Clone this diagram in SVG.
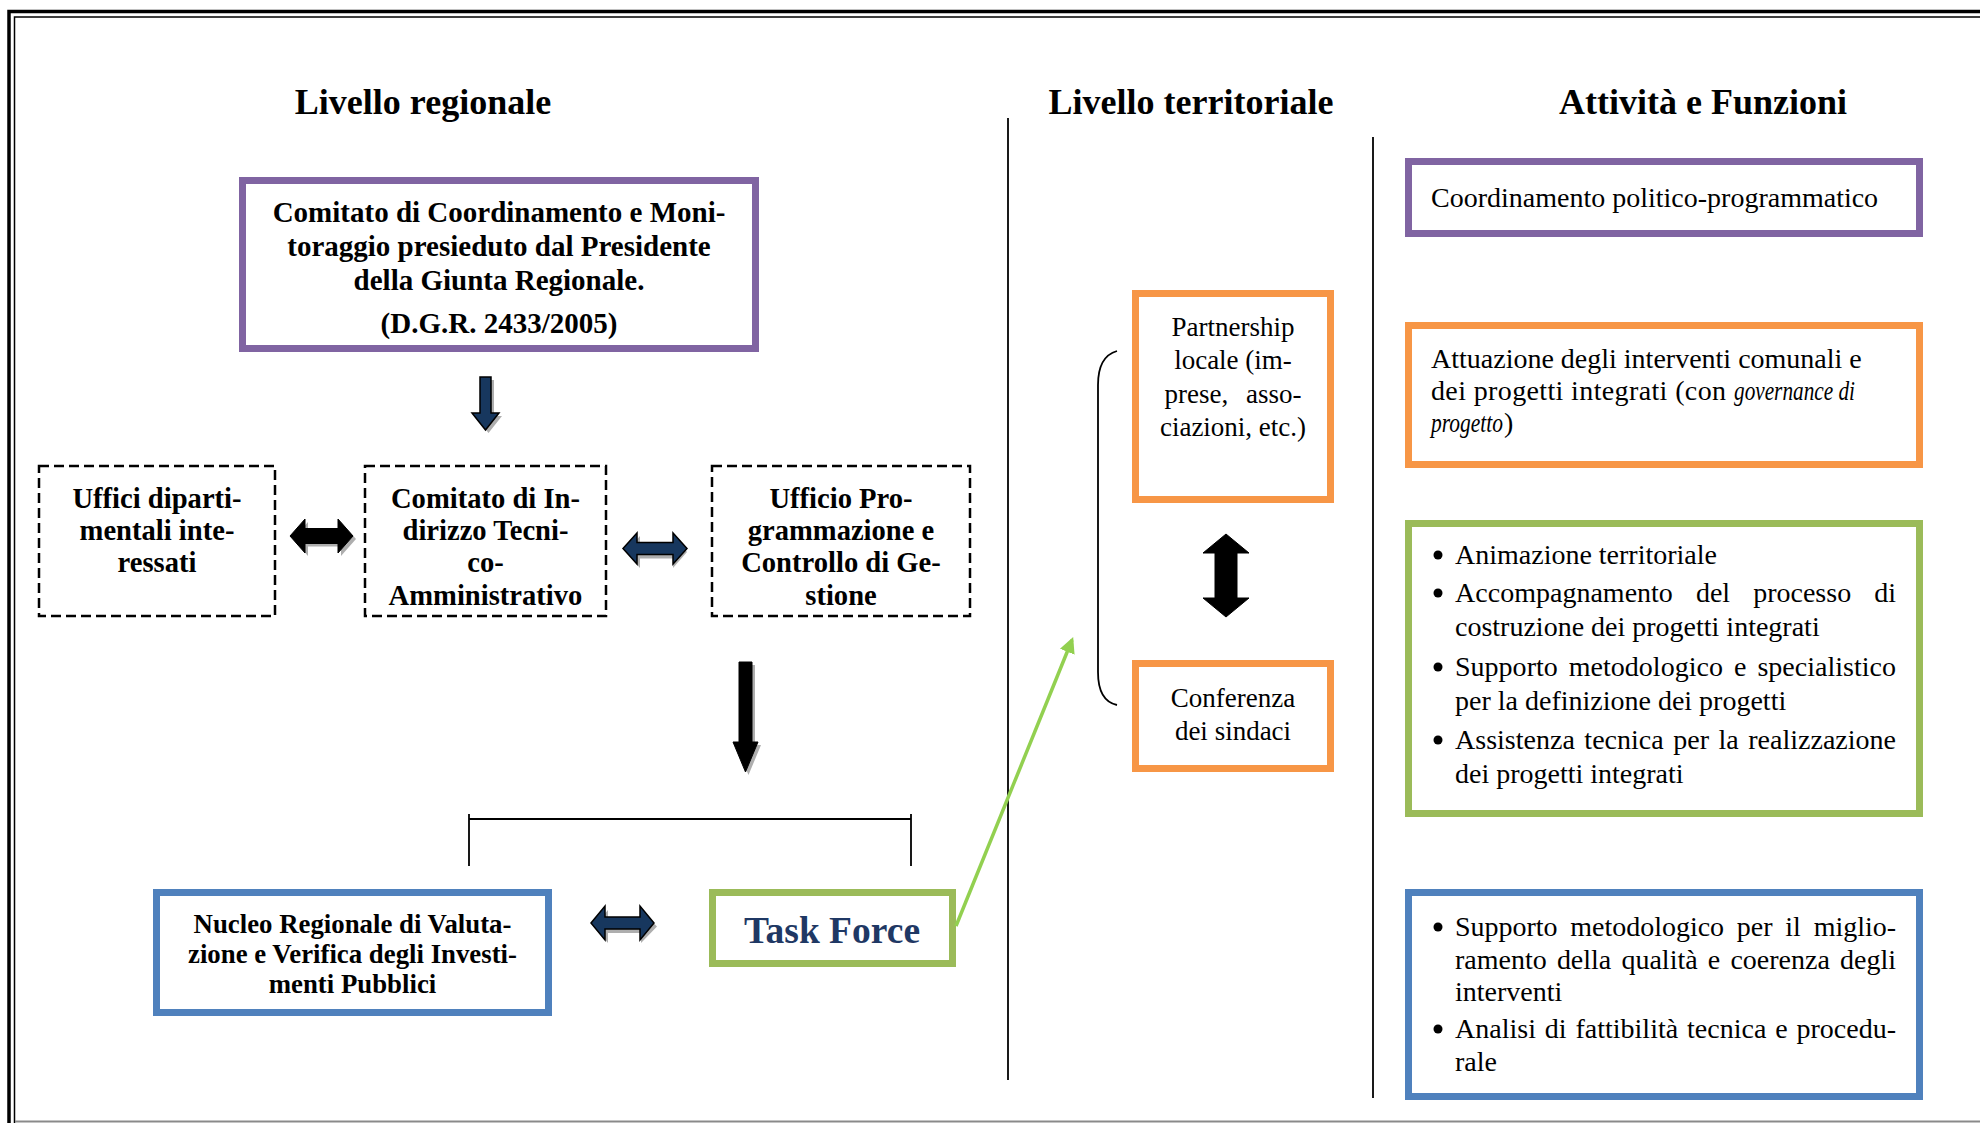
<svg xmlns="http://www.w3.org/2000/svg" width="1980" height="1123" viewBox="0 0 1980 1123">
<style>
  text { font-family: "Liberation Serif", "Times New Roman", serif; fill: #000; }
  .hdr { font-size: 36px; font-weight: bold; text-anchor: middle; }
  .b { font-size: 28.6px; font-weight: bold; text-anchor: middle; }
  .b1 { font-size: 29px; font-weight: bold; text-anchor: middle; }
  .bs { font-size: 26.8px; font-weight: bold; text-anchor: middle; }
  .r { font-size: 28px; }
  .ri { font-size: 28px; font-style: italic; }
  .rc { font-size: 27px; text-anchor: middle; }
  .tf { font-size: 37.5px; font-weight: bold; text-anchor: middle; fill: #1F3864; }
  .box { fill: #fff; stroke-width: 7; }
  .purple { stroke: #8064A2; }
  .orange { stroke: #F79646; }
  .green { stroke: #9BBB59; }
  .blue { stroke: #4F81BD; }
  .dash { fill: #fff; stroke: #000; stroke-width: 2.5; stroke-dasharray: 10 5; }
  .sep { stroke: #1a1a1a; stroke-width: 2; fill: none; }
  .thin { stroke: #000; stroke-width: 1.8; fill: none; }
  .shadow { fill: #8c8c8c; opacity: 0.7; }
  .navy { fill: #17375E; stroke: #000; stroke-width: 1.5; }
  .blk { fill: #000; stroke: #000; stroke-width: 1; }
  .bul { fill: #000; }
</style>
<defs>
  <marker id="gh" viewBox="0 0 10 10" refX="8" refY="5" markerWidth="4.5" markerHeight="4.5" orient="auto" markerUnits="strokeWidth">
    <path d="M0,0 L10,5 L0,10 z" fill="#92D050"/>
  </marker>
</defs>
<rect x="0" y="0" width="1980" height="1123" fill="#fff"/>

<g id="frame">
  <path d="M9,1123 V11.5 H1980" fill="none" stroke="#000" stroke-width="3.5"/>
  <path d="M14.5,1123 V17 H1980" fill="none" stroke="#000" stroke-width="1.5"/>
  <path d="M15,1121.5 H1980" fill="none" stroke="#8a8a8a" stroke-width="2"/>
</g>

<g id="headers">
  <text class="hdr" x="423" y="114">Livello regionale</text>
  <text class="hdr" x="1191" y="114">Livello territoriale</text>
  <text class="hdr" x="1703" y="114">Attività e Funzioni</text>
</g>

<g id="separators">
  <line class="sep" x1="1008" y1="118" x2="1008" y2="1080"/>
  <line class="sep" x1="1373" y1="137" x2="1373" y2="1098"/>
</g>

<g id="comitato-coordinamento">
  <rect class="box purple" x="242.5" y="180.5" width="513" height="168"/>
  <text class="b1" x="499" y="222">Comitato di Coordinamento e Moni-</text>
  <text class="b1" x="499" y="256">toraggio presieduto dal Presidente</text>
  <text class="b1" x="499" y="290">della Giunta Regionale.</text>
  <text class="b1" x="499" y="333">(D.G.R. 2433/2005)</text>
</g>

<g id="uffici-dipartimentali">
  <rect class="dash" x="39" y="466" width="236" height="150"/>
  <text class="b" x="157" y="508">Uffici diparti-</text>
  <text class="b" x="157" y="540">mentali inte-</text>
  <text class="b" x="157" y="572">ressati</text>
</g>

<g id="comitato-indirizzo">
  <rect class="dash" x="365" y="466" width="241" height="150"/>
  <text class="b" x="485.5" y="508">Comitato di In-</text>
  <text class="b" x="485.5" y="540">dirizzo Tecni-</text>
  <text class="b" x="485.5" y="572">co-</text>
  <text class="b" x="485.5" y="605">Amministrativo</text>
</g>

<g id="ufficio-programmazione">
  <rect class="dash" x="712" y="466" width="258" height="150"/>
  <text class="b" x="841" y="508">Ufficio Pro-</text>
  <text class="b" x="841" y="540">grammazione e</text>
  <text class="b" x="841" y="572">Controllo di Ge-</text>
  <text class="b" x="841" y="605">stione</text>
</g>

<g id="nucleo-regionale">
  <rect class="box blue" x="156.5" y="892.5" width="392" height="120"/>
  <text class="bs" x="352.5" y="933">Nucleo Regionale di Valuta-</text>
  <text class="bs" x="352.5" y="963">zione e Verifica degli Investi-</text>
  <text class="bs" x="352.5" y="993">menti Pubblici</text>
</g>

<g id="task-force">
  <rect class="box green" x="712.5" y="892.5" width="240" height="71"/>
  <text class="tf" x="832" y="943">Task Force</text>
</g>

<g id="partnership-locale">
  <rect class="box orange" x="1135.5" y="293.5" width="195" height="206"/>
  <text class="rc" x="1233" y="336">Partnership</text>
  <text class="rc" x="1233" y="369">locale (im-</text>
  <text class="rc" x="1233" y="403" word-spacing="11">prese, asso-</text>
  <text class="rc" x="1233" y="436">ciazioni, etc.)</text>
</g>

<g id="conferenza-sindaci">
  <rect class="box orange" x="1135.5" y="663.5" width="195" height="105"/>
  <text class="rc" x="1233" y="707">Conferenza</text>
  <text class="rc" x="1233" y="740">dei sindaci</text>
</g>

<g id="coordinamento-politico">
  <rect class="box purple" x="1408.5" y="161.5" width="511" height="72"/>
  <text class="r" x="1431" y="207">Coordinamento politico-programmatico</text>
</g>

<g id="attuazione-interventi">
  <rect class="box orange" x="1408.5" y="325.5" width="511" height="139"/>
  <text class="r" x="1431" y="368">Attuazione degli interventi comunali e</text>
  <text class="r" x="1431" y="400" textLength="295" lengthAdjust="spacing">dei progetti integrati (con</text>
  <text class="ri" x="1734" y="400" textLength="121" lengthAdjust="spacingAndGlyphs">governance di</text>
  <text class="ri" x="1431" y="432" textLength="72" lengthAdjust="spacingAndGlyphs">progetto</text>
  <text class="r" x="1504" y="432">)</text>
</g>

<g id="animazione-territoriale">
  <rect class="box green" x="1408.5" y="523.5" width="511" height="290"/>
  <circle class="bul" cx="1438" cy="555" r="4.5"/>
  <text class="r" x="1455" y="564">Animazione territoriale</text>
  <circle class="bul" cx="1438" cy="593" r="4.5"/>
  <text class="r" x="1455" y="602" word-spacing="16" textLength="441" lengthAdjust="spacing">Accompagnamento del processo di</text>
  <text class="r" x="1455" y="636">costruzione dei progetti integrati</text>
  <circle class="bul" cx="1438" cy="667" r="4.5"/>
  <text class="r" x="1455" y="676" word-spacing="4" textLength="441" lengthAdjust="spacing">Supporto metodologico e specialistico</text>
  <text class="r" x="1455" y="710">per la definizione dei progetti</text>
  <circle class="bul" cx="1438" cy="740" r="4.5"/>
  <text class="r" x="1455" y="749" word-spacing="2.5" textLength="441" lengthAdjust="spacing">Assistenza tecnica per la realizzazione</text>
  <text class="r" x="1455" y="783">dei progetti integrati</text>
</g>

<g id="supporto-metodologico">
  <rect class="box blue" x="1408.5" y="892.5" width="511" height="204"/>
  <circle class="bul" cx="1438" cy="927" r="4.5"/>
  <text class="r" x="1455" y="936" word-spacing="5.8" textLength="441" lengthAdjust="spacing">Supporto metodologico per il miglio-</text>
  <text class="r" x="1455" y="969" word-spacing="3.2" textLength="441" lengthAdjust="spacing">ramento della qualità e coerenza degli</text>
  <text class="r" x="1455" y="1001">interventi</text>
  <circle class="bul" cx="1438" cy="1029" r="4.5"/>
  <text class="r" x="1455" y="1038" word-spacing="1.8" textLength="441" lengthAdjust="spacing">Analisi di fattibilità tecnica e procedu-</text>
  <text class="r" x="1455" y="1071">rale</text>
</g>

<g id="connectors">
  <!-- small navy down arrow -->
  <polygon class="shadow" points="483,380 494,380 494,416 502,416 488.5,433 475,416 483,416"/>
  <polygon class="navy" points="480,377 491,377 491,413 499,413 485.5,430 472,413 480,413"/>
  <!-- black double arrow Uffici <-> Comitato -->
  <polygon class="shadow" points="293,539 308,522 308,531.5 341,531.5 341,522 356,539 341,556 341,546.5 308,546.5 308,556"/>
  <polygon class="blk" points="290,536 305,519 305,528.5 338,528.5 338,519 353,536 338,553 338,543.5 305,543.5 305,553"/>
  <!-- navy double arrow Comitato <-> Ufficio -->
  <polygon class="shadow" points="626,552 640,536 640,545.5 673,545.5 673,536 687,552 673,568 673,558.5 640,558.5 640,568"/>
  <polygon class="navy" points="623,548.5 637,533 637,542.5 673,542.5 673,533 687,548.5 673,564 673,554.5 637,554.5 637,564"/>
  <!-- big black down arrow -->
  <polygon class="shadow" points="742,665 755,665 755,745 761,745 748.5,775 736,745 742,745"/>
  <polygon class="blk" points="739,662 752,662 752,742 758,742 745.5,772 733,742 739,742"/>
  <!-- bracket -->
  <path class="thin" d="M469,866 V814 M469,819 H911 M911,814 V866"/>
  <!-- navy double arrow Nucleo <-> Task Force -->
  <polygon class="shadow" points="594,926.5 608,910 608,920 641,920 641,910 657,926.5 641,943 641,933 608,933 608,943"/>
  <polygon class="navy" points="591,923 605,906 605,917 640,917 640,906 654,923 640,940 640,929 605,929 605,940"/>
  <!-- green connector Task Force -> territorial -->
  <line x1="956" y1="926" x2="1072" y2="640" stroke="#92D050" stroke-width="3.5" marker-end="url(#gh)"/>
  <!-- curly bracket territorial -->
  <path class="thin" d="M1117,351 C1103,355 1098,368 1098,385 V672 C1098,690 1103,702 1117,705"/>
  <!-- vertical black double arrow -->
  <polygon class="blk" points="1226,534 1249,553 1237,553 1237,598 1249,598 1226,617 1203,598 1215,598 1215,553 1203,553"/>
</g>
</svg>
